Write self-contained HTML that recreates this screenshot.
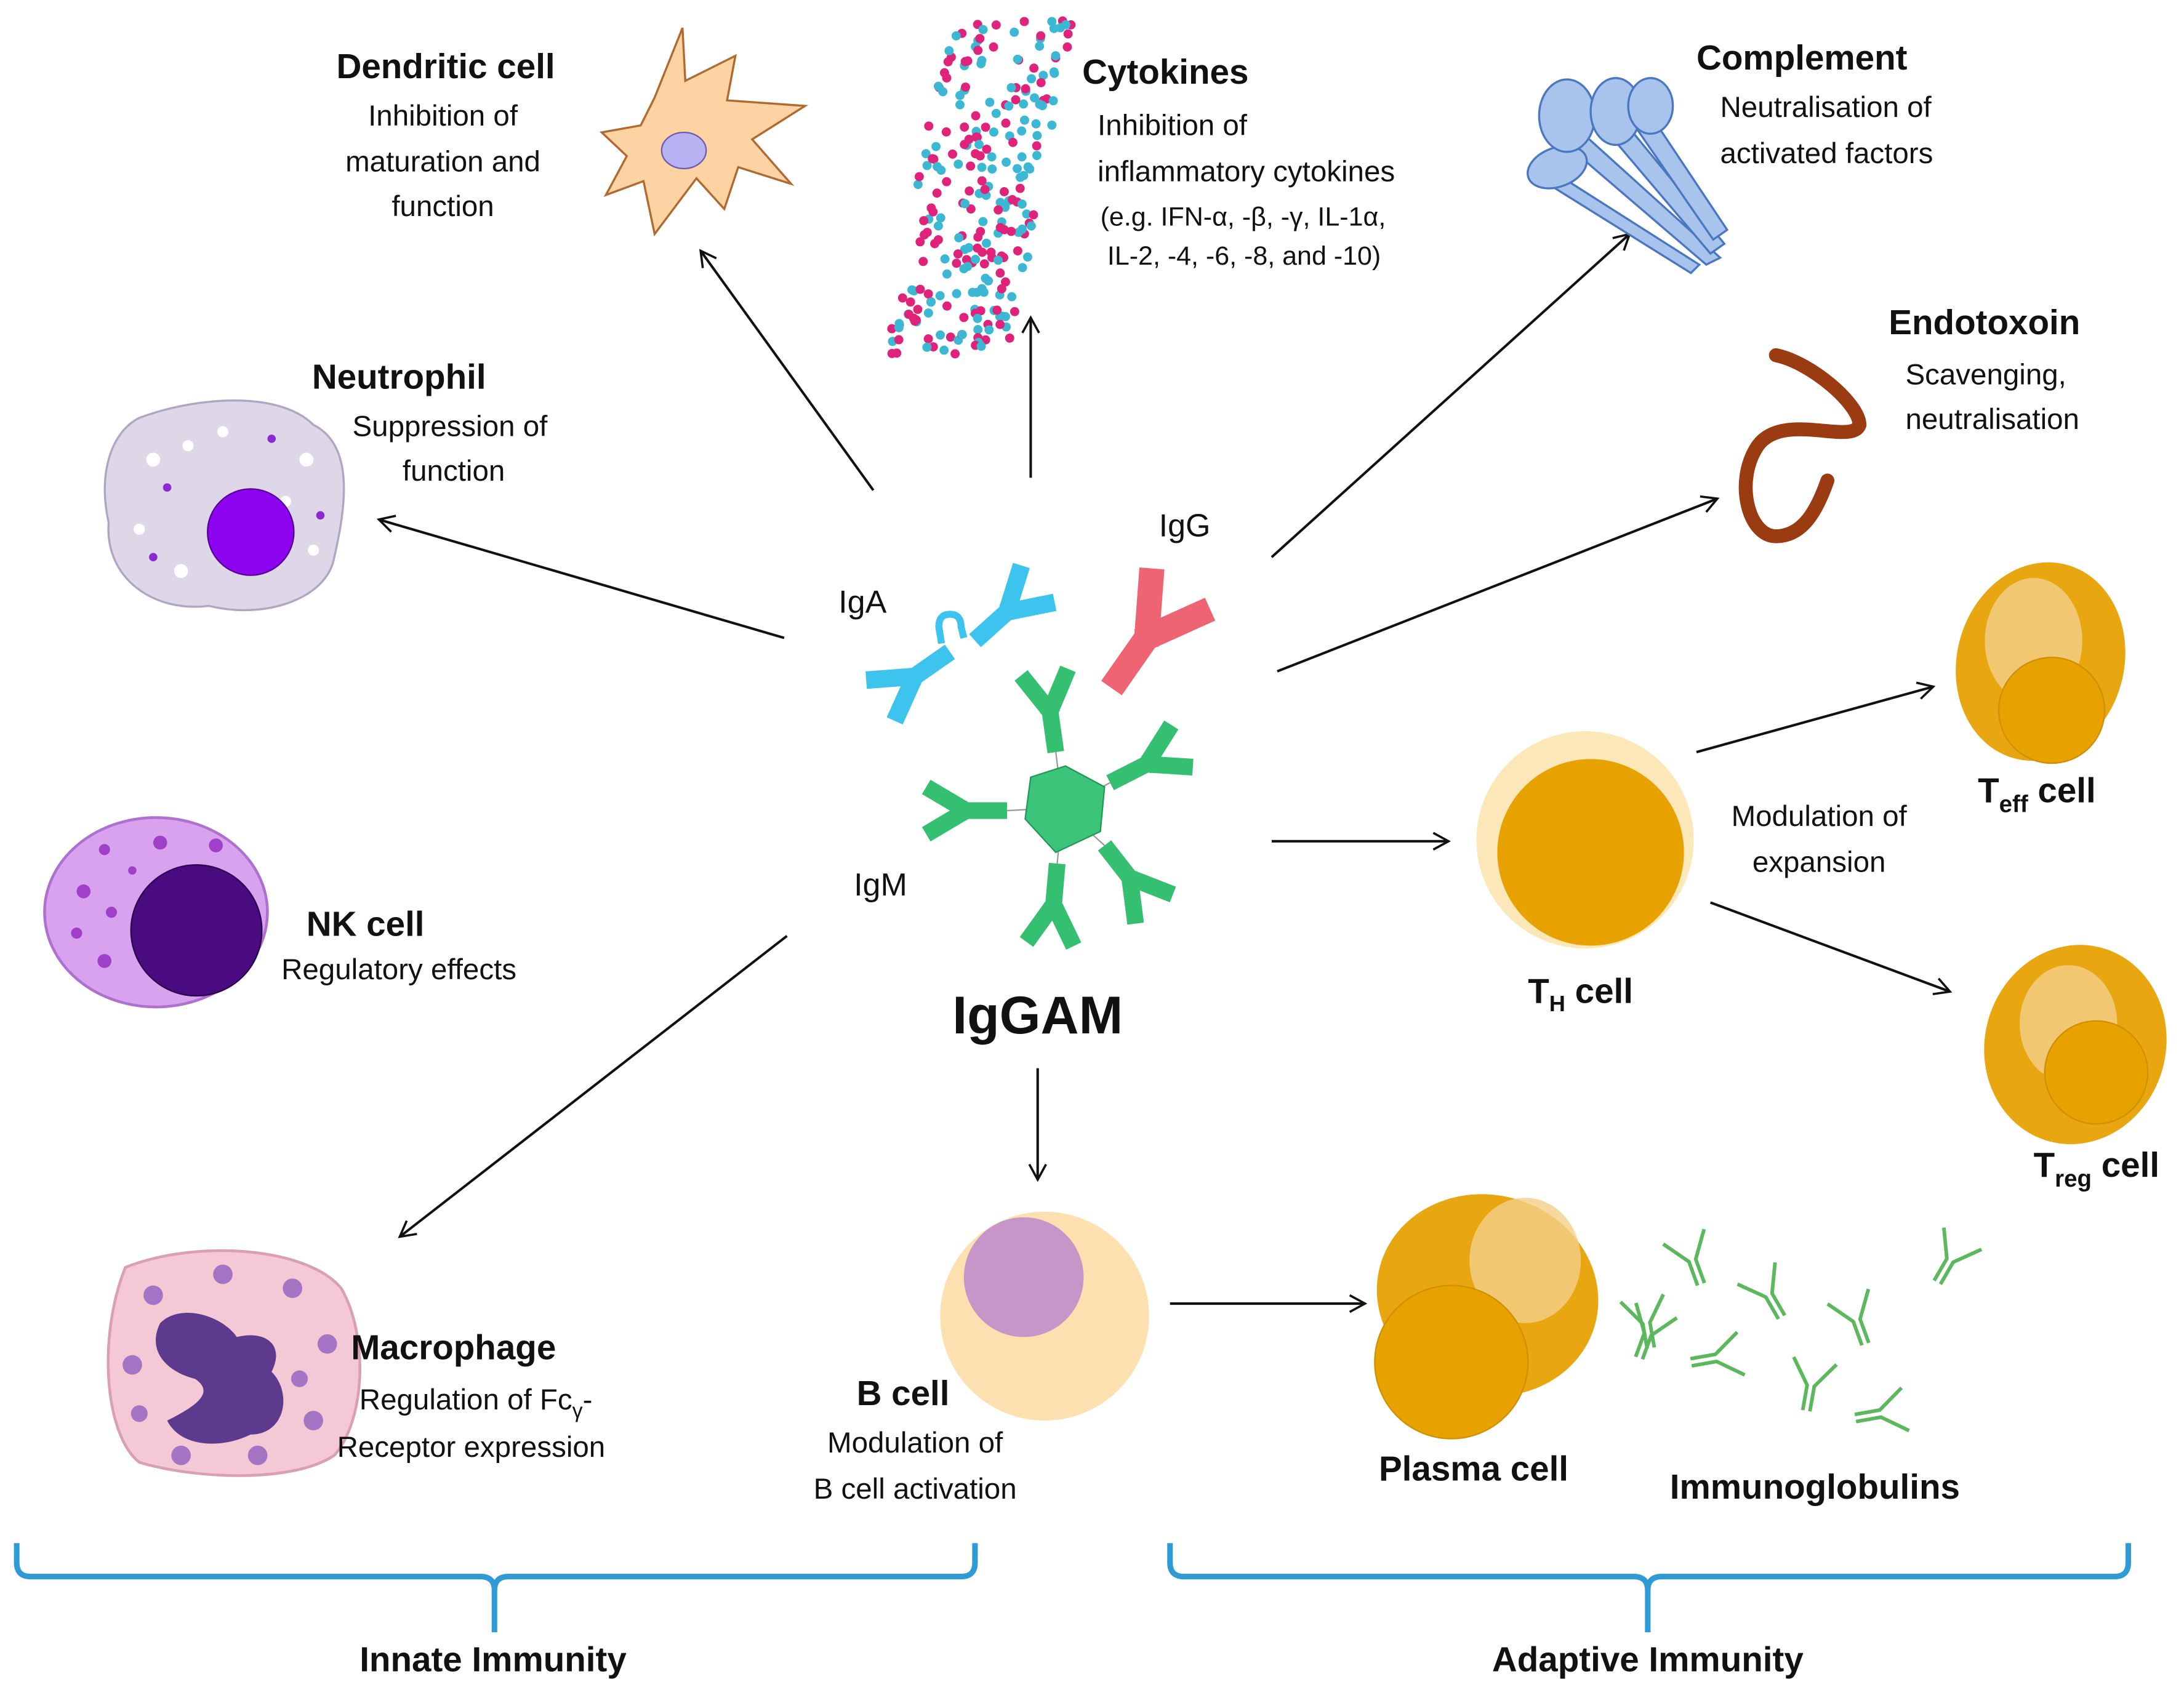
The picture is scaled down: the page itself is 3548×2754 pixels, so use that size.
<!DOCTYPE html>
<html><head><meta charset="utf-8">
<style>
html,body{margin:0;padding:0;background:#fff;}
svg{display:block;}
text{font-family:"Liberation Sans",sans-serif;fill:#111;}
.b{font-weight:bold;font-size:25px;}
.t{font-size:21px;}
</style></head>
<body>
<svg id="s" width="3548" height="2754" viewBox="0 0 1568 1217" xmlns="http://www.w3.org/2000/svg">
<defs>
<marker id="ar" markerWidth="14" markerHeight="14" refX="12" refY="7" orient="auto" markerUnits="userSpaceOnUse">
<path d="M1,1 L12,7 L1,13" fill="none" stroke="#111" stroke-width="1.6"/>
</marker>
<g id="Y"><path d="M0,0 L0,-30 M2,-26 L-17,-58 M-2,-26 L17,-58" stroke-width="12" fill="none" stroke-linejoin="miter"/></g>
</defs>

<!-- arrows -->
<g stroke="#111" stroke-width="1.8" marker-end="url(#ar)">
<line x1="627" y1="352" x2="503" y2="180"/>
<line x1="740" y1="343" x2="740" y2="228"/>
<line x1="913" y1="400" x2="1170" y2="168"/>
<line x1="917" y1="482" x2="1233" y2="358"/>
<line x1="563" y1="458" x2="272" y2="373"/>
<line x1="913" y1="604" x2="1040" y2="604"/>
<line x1="1218" y1="540" x2="1388" y2="493"/>
<line x1="1228" y1="648" x2="1400" y2="712"/>
<line x1="745" y1="767" x2="745" y2="847"/>
<line x1="565" y1="672" x2="287" y2="888"/>
<line x1="840" y1="936" x2="980" y2="936"/>
</g>

<!-- dendritic cell -->
<path d="M470,70 L490,20 L492,58 L528,40 L522,72 L578,76 L540,100 L568,132 L530,120 L520,150 L500,128 L470,168 L462,130 L435,140 L450,112 L432,95 L460,90 Z" fill="#fdd3a3" stroke="#b06a30" stroke-width="1.5"/>
<ellipse cx="491" cy="108" rx="16" ry="13" fill="#b7b3f3" stroke="#6a5ab0"/>

<!-- cytokines -->
<g id="cyt"></g>

<!-- complement -->
<g stroke="#4a78c0" stroke-width="1.5" fill="#a9c4ec">
<path d="M1130,90 L1235,185 L1225,190 L1120,100Z"/>
<path d="M1160,80 L1238,175 L1228,182 L1150,90Z"/>
<path d="M1180,75 L1240,165 L1230,172 L1170,85Z"/>
<path d="M1110,120 L1220,190 L1214,196 L1105,128Z"/>
<ellipse cx="1118" cy="120" rx="22" ry="14" transform="rotate(-20 1118 120)"/>
<ellipse cx="1125" cy="83" rx="20" ry="26"/>
<ellipse cx="1160" cy="80" rx="18" ry="24"/>
<ellipse cx="1185" cy="76" rx="16" ry="20"/>
</g>

<!-- endotoxin -->
<path d="M1275,255 C1300,260 1335,290 1335,305 C1330,320 1280,295 1262,320 C1245,345 1255,385 1275,385 C1295,385 1305,365 1312,345" fill="none" stroke="#9a3b12" stroke-width="10" stroke-linecap="round"/>

<!-- neutrophil -->
<path d="M100,300 C140,285 200,280 225,305 C255,320 248,365 240,400 C235,430 190,445 150,435 C110,440 75,415 78,375 C70,340 80,310 100,300Z" fill="#ddd7e8" stroke="#b0a6c4" stroke-width="1.5"/>
<g fill="#fff"><circle cx="110" cy="330" r="5"/><circle cx="135" cy="320" r="4"/><circle cx="220" cy="330" r="5"/><circle cx="100" cy="380" r="4"/><circle cx="225" cy="395" r="4"/><circle cx="130" cy="410" r="5"/><circle cx="205" cy="360" r="4"/><circle cx="160" cy="310" r="4"/></g>
<g fill="#8a2ad0"><circle cx="120" cy="350" r="3"/><circle cx="195" cy="315" r="3"/><circle cx="230" cy="370" r="3"/><circle cx="110" cy="400" r="3"/></g>
<circle cx="180" cy="382" r="31" fill="#8d05f0" stroke="#5a0099"/>

<!-- NK cell -->
<ellipse cx="112" cy="655" rx="80" ry="68" fill="#d9a2ee" stroke="#b070d0" stroke-width="2"/>
<g fill="#a040c8"><circle cx="60" cy="640" r="5"/><circle cx="75" cy="610" r="4"/><circle cx="115" cy="605" r="5"/><circle cx="155" cy="607" r="5"/><circle cx="55" cy="670" r="4"/><circle cx="75" cy="690" r="5"/><circle cx="95" cy="625" r="3"/><circle cx="80" cy="655" r="4"/></g>
<circle cx="141" cy="668" r="47" fill="#4a0a80" stroke="#2a0050"/>

<!-- macrophage -->
<path d="M90,910 C140,890 220,895 245,925 C265,960 262,1020 240,1045 C210,1065 140,1062 100,1050 C75,1030 70,960 90,910Z" fill="#f4c8d4" stroke="#d9a0b0" stroke-width="2"/>
<g fill="#9060c0" opacity="0.8"><circle cx="110" cy="930" r="7"/><circle cx="160" cy="915" r="7"/><circle cx="210" cy="925" r="7"/><circle cx="235" cy="965" r="7"/><circle cx="95" cy="980" r="7"/><circle cx="225" cy="1020" r="7"/><circle cx="130" cy="1045" r="7"/><circle cx="185" cy="1045" r="7"/><circle cx="215" cy="990" r="6"/><circle cx="100" cy="1015" r="6"/></g>
<path d="M115,950 C130,935 160,945 170,960 C190,955 205,965 195,985 C210,1000 205,1030 180,1030 C160,1040 130,1040 120,1020 C140,1010 155,1000 140,990 C120,985 105,970 115,950Z" fill="#5c3a8e"/>

<!-- B cell -->
<circle cx="750" cy="945" r="75" fill="#fde0b0"/>
<circle cx="735" cy="917" r="43" fill="#c895c8"/>

<!-- T_H cell -->
<circle cx="1138" cy="603" r="78" fill="#fbe7b8"/>
<circle cx="1142" cy="612" r="67" fill="#e8a200"/>

<!-- Teff -->
<ellipse cx="1465" cy="475" rx="60" ry="72" fill="#e8a710" transform="rotate(15 1465 475)"/>
<ellipse cx="1460" cy="460" rx="35" ry="45" fill="#f3d08a" opacity="0.8"/>
<circle cx="1473" cy="510" r="38" fill="#e8a200" stroke="#d08f00"/>
<!-- Treg -->
<ellipse cx="1490" cy="750" rx="65" ry="72" fill="#e8a710" transform="rotate(15 1490 750)"/>
<ellipse cx="1485" cy="735" rx="35" ry="42" fill="#f3d08a" opacity="0.8"/>
<circle cx="1505" cy="770" r="37" fill="#e8a200" stroke="#d08f00"/>
<!-- Plasma cell -->
<ellipse cx="1068" cy="930" rx="80" ry="72" fill="#e8a710" transform="rotate(15 1068 930)"/>
<ellipse cx="1095" cy="905" rx="40" ry="45" fill="#f3d08a" opacity="0.8"/>
<circle cx="1042" cy="978" r="55" fill="#e8a200" stroke="#d08f00"/>

<!-- immunoglobulins -->
<g id="igs"></g>

<!-- center antibodies -->
<!-- IgA -->
<use href="#Y" stroke="#3cc4ee" transform="translate(682,468) rotate(235) scale(1.05)"/>
<use href="#Y" stroke="#3cc4ee" transform="translate(700,460) rotate(48) scale(1.05)"/>
<path d="M676,462 L674,450 Q674,441 682,441 Q690,441 690,450 L692,458" stroke="#3cc4ee" stroke-width="5" fill="none"/>
<!-- IgG -->
<use href="#Y" stroke="#ee6472" transform="translate(798,494) rotate(35) scale(1.5)"/>
<!-- IgM -->
<g stroke="#999" stroke-width="1">
<line x1="763" y1="580" x2="758" y2="540"/>
<line x1="763" y1="580" x2="723" y2="582"/>
<line x1="763" y1="580" x2="797" y2="562"/>
<line x1="763" y1="580" x2="793" y2="607"/>
<line x1="763" y1="580" x2="759" y2="620"/>
</g>
<polygon points="765,550 793,565 790,597 758,612 736,588 740,558" fill="#3cc47a" stroke="#1e9a55"/>
<use href="#Y" stroke="#34c070" transform="translate(758,540) rotate(-8)"/>
<use href="#Y" stroke="#34c070" transform="translate(723,582) rotate(-90)"/>
<use href="#Y" stroke="#34c070" transform="translate(797,562) rotate(63)"/>
<use href="#Y" stroke="#34c070" transform="translate(793,607) rotate(142)"/>
<use href="#Y" stroke="#34c070" transform="translate(759,620) rotate(185)"/>

<!-- brackets -->
<g stroke="#2e9bd6" stroke-width="4" fill="none">
<path d="M12,1108 L12,1122 Q12,1132 22,1132 L345,1132 Q355,1132 355,1142 L355,1172 M355,1142 Q355,1132 365,1132 L690,1132 Q700,1132 700,1122 L700,1108"/>
<path d="M840,1108 L840,1122 Q840,1132 850,1132 L1173,1132 Q1183,1132 1183,1142 L1183,1172 M1183,1142 Q1183,1132 1193,1132 L1518,1132 Q1528,1132 1528,1122 L1528,1108"/>
</g>

<!-- text -->
<text class="b" x="320" y="56" text-anchor="middle">Dendritic cell</text>
<text class="t" x="318" y="90" text-anchor="middle">Inhibition of</text>
<text class="t" x="318" y="123" text-anchor="middle">maturation and</text>
<text class="t" x="318" y="155" text-anchor="middle">function</text>
<text class="b" x="777" y="60">Cytokines</text>
<text class="t" x="788" y="97">Inhibition of</text>
<text class="t" x="788" y="130">inflammatory cytokines</text>
<text class="t" x="790" y="162" style="font-size:19px">(e.g. IFN-α, -β, -γ, IL-1α,</text>
<text class="t" x="795" y="190" style="font-size:19px">IL-2, -4, -6, -8, and -10)</text>
<text class="b" x="1218" y="50">Complement</text>
<text class="t" x="1235" y="84">Neutralisation of</text>
<text class="t" x="1235" y="117">activated factors</text>
<text class="b" x="1356" y="240">Endotoxoin</text>
<text class="t" x="1368" y="276">Scavenging,</text>
<text class="t" x="1368" y="308">neutralisation</text>
<text class="b" x="224" y="279">Neutrophil</text>
<text class="t" x="253" y="313">Suppression of</text>
<text class="t" x="289" y="345">function</text>
<text class="t" x="602" y="440" style="font-size:23px">IgA</text>
<text class="t" x="832" y="385" style="font-size:23px">IgG</text>
<text class="t" x="613" y="643" style="font-size:23px">IgM</text>
<text x="745" y="742" text-anchor="middle" style="font-weight:bold;font-size:38px">IgGAM</text>
<text class="b" x="220" y="672">NK cell</text>
<text class="t" x="202" y="703">Regulatory effects</text>
<text class="b" x="252" y="976">Macrophage</text>
<text class="t" x="258" y="1012">Regulation of Fc<tspan dy="6" style="font-size:15px">γ</tspan><tspan dy="-6">-</tspan></text>
<text class="t" x="242" y="1046">Receptor expression</text>
<text class="b" x="615" y="1009">B cell</text>
<text class="t" x="657" y="1043" text-anchor="middle">Modulation of</text>
<text class="t" x="657" y="1076" text-anchor="middle">B cell activation</text>
<text class="b" x="1097" y="720">T<tspan dy="6" style="font-size:16px">H</tspan><tspan dy="-6"> cell</tspan></text>
<text class="t" x="1306" y="593" text-anchor="middle">Modulation of</text>
<text class="t" x="1306" y="626" text-anchor="middle">expansion</text>
<text class="b" x="1420" y="576">T<tspan dy="7" style="font-size:17px">eff</tspan><tspan dy="-7"> cell</tspan></text>
<text class="b" x="1460" y="845">T<tspan dy="7" style="font-size:17px">reg</tspan><tspan dy="-7"> cell</tspan></text>
<text class="b" x="1058" y="1063" text-anchor="middle">Plasma cell</text>
<text class="b" x="1303" y="1076" text-anchor="middle">Immunoglobulins</text>
<text class="b" x="354" y="1200" text-anchor="middle">Innate Immunity</text>
<text class="b" x="1183" y="1200" text-anchor="middle">Adaptive Immunity</text>
</svg>
<script>
(function(){
var ns="http://www.w3.org/2000/svg";
var g=document.getElementById("cyt");
var seed=7;function r(){seed=(seed*16807)%2147483647;return seed/2147483647;}
for(var i=0;i<260;i++){
 var t=r();var y=15+t*240;
 var cx=725-(y-15)*0.18+ (r()-0.5)*90;
 var c=document.createElementNS(ns,"circle");
 c.setAttribute("cx",cx.toFixed(1));c.setAttribute("cy",y.toFixed(1));c.setAttribute("r","3.3");
 c.setAttribute("fill",r()<0.5?"#e0237a":"#3cb8d4");g.appendChild(c);
}
var ig=document.getElementById("igs");
var pts=[[1215,905,-20],[1183,958,20],[1232,975,80],[1270,930,-30],[1300,995,10],[1333,948,-20],[1350,1015,80],[1400,905,30],[1182,950,-10]];
pts.forEach(function(p){
 var u=document.createElementNS(ns,"g");
 u.setAttribute("transform","translate("+p[0]+","+p[1]+") rotate("+p[2]+") scale(1.3)");
 u.innerHTML='<path d="M-2,14 L-2,0 L-12,-14 M2,14 L2,0 L12,-14" stroke="#5cb85c" stroke-width="2" fill="none"/>';
 ig.appendChild(u);
});
})();
</script>
</body></html>
